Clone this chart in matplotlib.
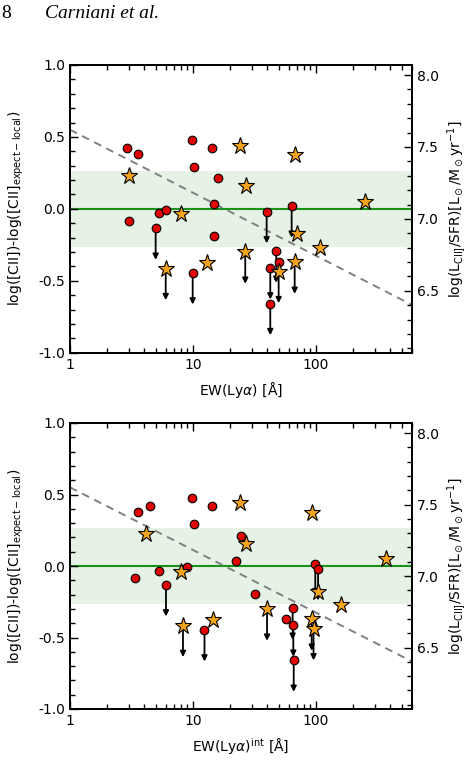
import numpy as np
import matplotlib
matplotlib.use('Agg')
import matplotlib.pyplot as plt
import matplotlib.ticker as mticker

# ---- data ----
# top panel: EW(Lya) observed
top_circ_x = [2.89, 3.59, 9.75, 14.4, 10.1, 16.1, 14.9, 5.3, 6.0, 39.7, 63.4, 3.0,
              4.97, 14.9, 9.94, 47.5, 49.7, 42.5, 42.5]
top_circ_y = [0.42, 0.378, 0.478, 0.422, 0.292, 0.211, 0.037, -0.03, -0.007, -0.02, 0.019, -0.083,
              -0.134, -0.192, -0.445, -0.294, -0.371, -0.41, -0.658]
top_circ_lim = [0, 0, 0, 0, 0, 0, 0, 0, 0, 1, 1, 0,
                1, 0, 1, 1, 0, 1, 1]
top_star_x = [3.0, 23.9, 67.5, 27.0, 249, 7.94, 70.5, 107, 26.6, 13.1, 6.0, 49.7, 67.1]
top_star_y = [0.225, 0.44, 0.371, 0.158, 0.047, -0.039, -0.178, -0.271, -0.301, -0.378, -0.415, -0.436, -0.371]
top_star_lim = [0, 0, 0, 0, 0, 0, 0, 0, 1, 0, 1, 1, 1]

# bottom panel: EW(Lya) intrinsic
bot_circ_x = [3.59, 4.44, 9.75, 14.4, 10.1, 24.6, 22.4, 8.94, 5.3, 98.7, 104, 3.38,
              6.03, 12.4, 31.7, 64.6, 56.6, 65.4, 65.9]
bot_circ_y = [0.38, 0.417, 0.478, 0.422, 0.294, 0.212, 0.035, -0.005, -0.033, 0.016, -0.021, -0.084,
              -0.133, -0.448, -0.194, -0.296, -0.373, -0.415, -0.66]
bot_circ_lim = [0, 0, 0, 0, 0, 0, 0, 0, 0, 1, 1, 0,
                1, 1, 0, 1, 0, 1, 1]
bot_star_x = [4.12, 23.9, 92.8, 27.0, 371, 7.94, 8.29, 14.5, 40.0, 104.5, 160, 92.3, 95.5]
bot_star_y = [0.224, 0.443, 0.37, 0.156, 0.049, -0.042, -0.417, -0.38, -0.303, -0.182, -0.275, -0.373, -0.44]
bot_star_lim = [0, 0, 0, 0, 0, 0, 1, 0, 1, 0, 0, 1, 1]

# relation / scatter band
fit_intercept = 0.55
fit_slope = -0.438
band = 0.265
arrow_len = 0.22
right_offset = 7.07

circ_color = '#e00000'
star_color = '#f5a31a'


def draw_panel(ax, cx, cy, clim, sx, sy, slim, xlabel):
    ax.set_xscale('log')
    ax.set_xlim(1, 600)
    ax.set_ylim(-1.0, 1.0)
    ax.axhspan(-band, band, color='green', alpha=0.1, lw=0, zorder=0)
    ax.axhline(0.0, color='#1a921a', lw=1.5, zorder=1)
    xx = np.array(ax.get_xlim())
    ax.plot(xx, fit_intercept + fit_slope * np.log10(xx), ls='--', color='gray',
            lw=1.4, dashes=(4, 3), zorder=1)

    # upper limits
    for x, y, l in list(zip(cx, cy, clim)) + list(zip(sx, sy, slim)):
        if l:
            ax.annotate('', xy=(x, y - arrow_len), xytext=(x, y),
                        arrowprops=dict(arrowstyle='-|>', color='k', lw=1.3,
                                        mutation_scale=8, shrinkA=0, shrinkB=0),
                        zorder=2)

    ax.plot(cx, cy, 'o', ms=6.2, mfc=circ_color, mec='k', mew=0.8, zorder=3)
    ax.plot(sx, sy, '*', ms=12.5, mfc=star_color, mec='k', mew=0.8, zorder=3)

    ax.xaxis.set_major_formatter(mticker.FormatStrFormatter('%g'))
    ax.xaxis.set_minor_formatter(mticker.NullFormatter())
    ax.yaxis.set_major_locator(mticker.MultipleLocator(0.5))
    ax.yaxis.set_minor_locator(mticker.MultipleLocator(0.1))
    ax.yaxis.set_major_formatter(mticker.FormatStrFormatter('%.1f'))
    ax.tick_params(which='both', direction='in', top=True, right=False, labelsize=10, width=1)
    ax.tick_params(which='major', length=6)
    ax.tick_params(which='minor', length=3.5)
    ax.set_xlabel(xlabel, fontsize=10, labelpad=6)
    ax.set_ylabel(r'log([CII])-log([CII]$_{\rm expect-local}$)', fontsize=10, labelpad=9)
    for s in ax.spines.values():
        s.set_linewidth(1.3)

    ax2 = ax.twinx()
    ax2.set_ylim(-1.0 + right_offset, 1.0 + right_offset)
    ax2.yaxis.set_major_locator(mticker.MultipleLocator(0.5))
    ax2.yaxis.set_minor_locator(mticker.MultipleLocator(0.1))
    ax2.yaxis.set_major_formatter(mticker.FormatStrFormatter('%.1f'))
    ax2.tick_params(which='both', direction='in', labelsize=10, width=1)
    ax2.tick_params(which='major', length=6)
    ax2.tick_params(which='minor', length=3.5)
    ax2.set_ylabel(r'log(L$_{\rm CII]}$/SFR)[L$_\odot$/M$_\odot$yr$^{-1}$]', fontsize=10, labelpad=5)
    for s in ax2.spines.values():
        s.set_linewidth(1.3)


fig = plt.figure(figsize=(4.68, 7.6), dpi=100)
ax_top = fig.add_axes([70 / 468, 1 - 352.7 / 760, 341.7 / 468, 287.7 / 760])
ax_bot = fig.add_axes([70 / 468, 1 - 709 / 760, 341.7 / 468, 286 / 760])

draw_panel(ax_top, top_circ_x, top_circ_y, top_circ_lim,
           top_star_x, top_star_y, top_star_lim, r'EW(Ly$\alpha$) [$\rm\AA$]')
draw_panel(ax_bot, bot_circ_x, bot_circ_y, bot_circ_lim,
           bot_star_x, bot_star_y, bot_star_lim, r'EW(Ly$\alpha$)$^{\rm int}$ [$\rm\AA$]')

# page header
fig.text(1 / 468, 1 - 14 / 760, '8', fontsize=14, family='Liberation Serif', va='center')
fig.text(45 / 468, 1 - 14 / 760, 'Carniani et al.', fontsize=14, family='Liberation Serif',
         style='italic', va='center')

fig.savefig('out.png', dpi=100)
